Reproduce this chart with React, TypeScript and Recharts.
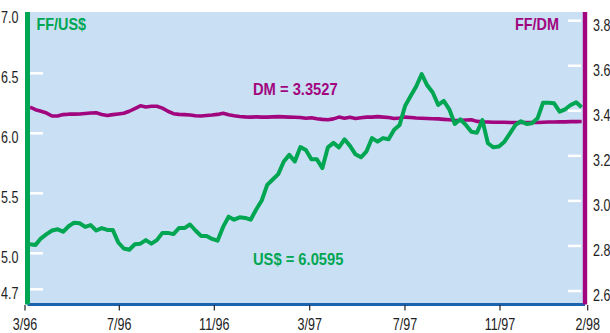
import { LineChart, Line, XAxis, YAxis, CartesianGrid } from "recharts";

// weekly fixings, French franc per US dollar
const USD = [
  5.075, 5.07, 5.125, 5.16, 5.19, 5.2, 5.18, 5.225, 5.255, 5.25,
  5.22, 5.235, 5.19, 5.21, 5.195, 5.195, 5.09, 5.04, 5.03, 5.075,
  5.08, 5.11, 5.08, 5.11, 5.17, 5.17, 5.16, 5.21, 5.21, 5.24,
  5.19, 5.145, 5.145, 5.12, 5.105, 5.22, 5.305, 5.28, 5.3, 5.295,
  5.28, 5.365, 5.44, 5.57, 5.615, 5.66, 5.765, 5.82, 5.765, 5.885,
  5.86, 5.783, 5.783, 5.71, 5.883, 5.92, 5.883, 5.95, 5.895, 5.825,
  5.8, 5.85, 5.96, 5.93, 5.96, 5.95, 6.03, 6.07, 6.23, 6.31,
  6.39, 6.494, 6.4, 6.34, 6.236, 6.27, 6.2, 6.078, 6.117, 6.07,
  6.013, 6.005, 6.11, 5.917, 5.883, 5.89, 5.93, 6.0, 6.07, 6.1,
  6.078, 6.083, 6.125, 6.255, 6.255, 6.25, 6.18, 6.2, 6.236, 6.258, 6.217,
];

// French franc per Deutschmark, same weeks
const DM = [
  3.416, 3.405, 3.398, 3.39, 3.377, 3.377, 3.383, 3.385, 3.385, 3.386,
  3.388, 3.39, 3.391, 3.384, 3.379, 3.383, 3.386, 3.389, 3.398, 3.41,
  3.422, 3.417, 3.42, 3.42, 3.412, 3.398, 3.387, 3.384, 3.383, 3.381,
  3.378, 3.377, 3.379, 3.381, 3.384, 3.389, 3.382, 3.378, 3.375, 3.373,
  3.372, 3.373, 3.372, 3.372, 3.373, 3.374, 3.373, 3.372, 3.371, 3.37,
  3.367, 3.369, 3.365, 3.362, 3.36, 3.364, 3.372, 3.367, 3.371, 3.366,
  3.369, 3.372, 3.372, 3.374, 3.372, 3.37, 3.366, 3.368, 3.372, 3.37,
  3.368, 3.367, 3.366, 3.365, 3.364, 3.362, 3.36, 3.358, 3.357, 3.359,
  3.36, 3.353, 3.351, 3.35, 3.349, 3.349, 3.349, 3.348, 3.348, 3.348,
  3.348, 3.348, 3.348, 3.349, 3.35, 3.35, 3.351, 3.351, 3.352, 3.352, 3.3527,
];

const WEEKS = USD.map((_, i) => i);

// month ticks, in weeks from the first fixing
const X_TICKS = [-0.906, 16.19, 33.41, 50.7, 67.97, 85.19, 101.09];
const X_LABELS = ["3/96", "7/96", "11/96", "3/97", "7/97", "11/97", "2/98"];
const USD_TICKS = [4.7, 5.0, 5.5, 6.0, 6.5, 7.0];
const DM_TICKS = [2.6, 2.8, 3.0, 3.2, 3.4, 3.6, 3.8];

const GREEN = "#00a651";
const PURPLE = "#a1067f";
const BG = "#c9dff3";
const BLUE = "#1d62ae";
const INK = "#222";
const SANS = "'Liberation Sans', Arial, sans-serif";

const data = WEEKS.map((w, i) => ({ w, usd: USD[i], dm: DM[i] }));

// condensed look: regular sans squeezed horizontally
const Squeezed = ({ x, y, sx = 0.76, anchor = "start", size = 16.5, bold = false, fill = INK, children }: any) => (
  <text
    transform={`translate(${x} ${y}) scale(${sx} 1)`}
    textAnchor={anchor}
    fill={fill}
    fontSize={size}
    fontWeight={bold ? 700 : 400}
    fontFamily={SANS}
  >
    {children}
  </text>
);

const LeftTick = ({ x, y, payload }: any) => (
  <g>
    {payload.value < 7 && (
      <line x1={x + 2.5} x2={x + 15.5} y1={y} y2={y} stroke="#fff" strokeWidth={2.5} />
    )}
    <Squeezed x={x - 9} y={y + 10} anchor="end">
      {payload.value.toFixed(1)}
    </Squeezed>
  </g>
);

const RightTick = ({ x, y, payload }: any) => (
  <g>
    <line x1={x - 17} x2={x - 4} y1={y} y2={y} stroke="#fff" strokeWidth={2.5} />
    <Squeezed x={x + 8} y={y + 10}>
      {payload.value.toFixed(1)}
    </Squeezed>
  </g>
);

const BottomTick = ({ x, y, payload }: any) => {
  const i = X_TICKS.indexOf(payload.value);
  return (
    <g>
      <line x1={x} x2={x} y1={y + 0.5} y2={y + 6} stroke={INK} strokeWidth={1.2} />
      <Squeezed x={x} y={y + 25} anchor="middle">
        {X_LABELS[i]}
      </Squeezed>
    </g>
  );
};

export default function App() {
  return (
    <div style={{ position: "absolute", left: 0, top: 0, width: 610, height: 333, background: "#fff" }}>
      <LineChart width={610} height={333} data={data} margin={{ top: 12, right: 0, bottom: 0, left: 0 }}>
        <CartesianGrid yAxisId="l" horizontal={false} vertical={false} fill={BG} fillOpacity={1} />
        <XAxis
          dataKey="w"
          type="number"
          domain={[-0.906, 101.09]}
          ticks={X_TICKS}
          interval={0}
          allowDataOverflow
          height={28.5}
          padding={{ left: -2.5, right: -2.7 }}
          axisLine={{ stroke: BLUE, strokeWidth: 3 }}
          tickLine={false}
          tickSize={0}
          tickMargin={0}
          tick={<BottomTick />}
        />
        <YAxis
          yAxisId="l"
          orientation="left"
          type="number"
          width={27.5}
          domain={[4.5733, 7.0108]}
          ticks={USD_TICKS}
          interval={0}
          allowDataOverflow
          axisLine={{ stroke: GREEN, strokeWidth: 5 }}
          tickLine={false}
          tickSize={0}
          tickMargin={0}
          tick={<LeftTick />}
        />
        <YAxis
          yAxisId="r"
          orientation="right"
          type="number"
          width={25}
          domain={[2.54, 3.8386]}
          ticks={DM_TICKS}
          interval={0}
          allowDataOverflow
          axisLine={{ stroke: PURPLE, strokeWidth: 4.4 }}
          tickLine={false}
          tickSize={0}
          tickMargin={0}
          tick={<RightTick />}
        />
        <Line
          yAxisId="r"
          dataKey="dm"
          type="linear"
          stroke={PURPLE}
          strokeWidth={3.6}
          strokeLinejoin="round"
          dot={false}
          activeDot={false}
          isAnimationActive={false}
        />
        <Line
          yAxisId="l"
          dataKey="usd"
          type="linear"
          stroke={GREEN}
          strokeWidth={4}
          strokeLinejoin="round"
          dot={false}
          activeDot={false}
          isAnimationActive={false}
        />
        <Squeezed x={36.5} y={30} sx={0.9} size={16} bold fill={GREEN}>
          FF/US$
        </Squeezed>
        <Squeezed x={559} y={30} sx={0.9} size={16} bold fill={PURPLE} anchor="end">
          FF/DM
        </Squeezed>
        <Squeezed x={253} y={95} sx={0.92} size={16} bold fill={PURPLE}>
          DM = 3.3527
        </Squeezed>
        <Squeezed x={253} y={264.5} sx={0.92} size={16} bold fill={GREEN}>
          US$ = 6.0595
        </Squeezed>
      </LineChart>
    </div>
  );
}
